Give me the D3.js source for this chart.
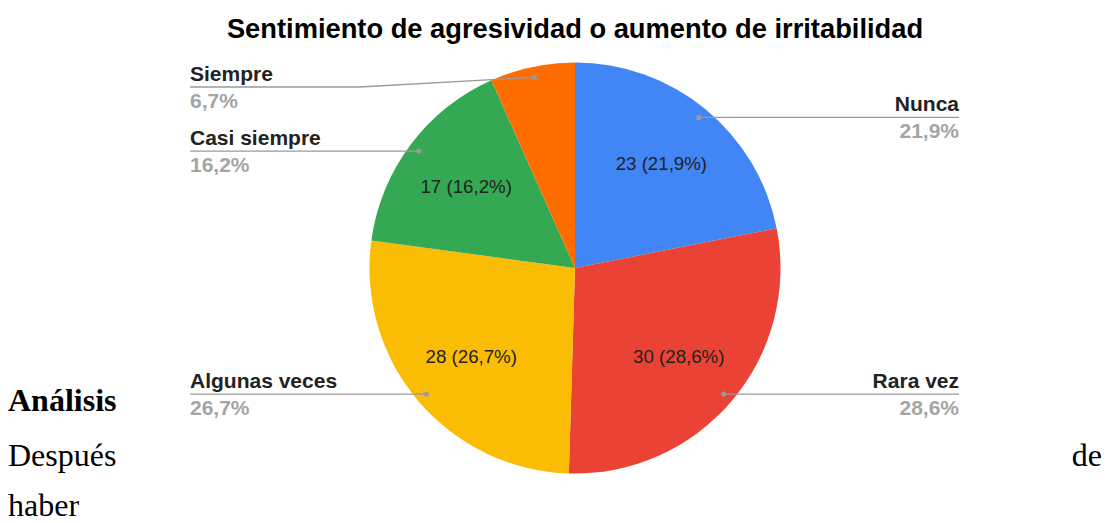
<!DOCTYPE html>
<html>
<head>
<meta charset="utf-8">
<script src="https://cdn.jsdelivr.net/npm/d3@7"></script>
<style>
  body { margin: 0; background: #fff; }
  svg { display: block; font-family: "Liberation Sans", Arial, sans-serif; }
  .doc { font-family: "Liberation Serif", "Times New Roman", serif; font-size: 32px; fill: #000; }
</style>
</head>
<body>
<div id="chart"></div>
<script>
// data
const title = 'Sentimiento de agresividad o aumento de irritabilidad'
const categories = ['Nunca', 'Rara vez', 'Algunas veces', 'Casi siempre', 'Siempre']
const counts = [23, 30, 28, 17, 7]
const colors = ['#4285f4', '#ea4335', '#fbbc04', '#34a853', '#ff6d01']

const width = 1107, height = 523
const cx = 575, cy = 268, R = 205.5

const total = d3.sum(counts)
const fmtPct = v => (v / total * 100).toFixed(1).replace('.', ',') + '%'

const svg = d3.select('#chart').append('svg')
  .attr('width', width)
  .attr('height', height)

// surrounding document text
svg.append('text').attr('class', 'doc').attr('x', 8).attr('y', 411)
  .style('font-weight', 'bold').text('Análisis')
svg.append('text').attr('class', 'doc').attr('x', 8).attr('y', 466).text('Después')
svg.append('text').attr('class', 'doc').attr('x', 1102).attr('y', 466)
  .attr('text-anchor', 'end').text('de')
svg.append('text').attr('class', 'doc').attr('x', 8).attr('y', 516).text('haber')

// title
svg.append('text')
  .attr('x', cx).attr('y', 38)
  .attr('text-anchor', 'middle')
  .style('font-size', '27.3px').style('font-weight', 'bold').attr('fill', '#000')
  .text(title)

const pie = d3.pie().sort(null).value(d => d)
const arcs = pie(counts)

const g = svg.append('g').attr('transform', `translate(${cx},${cy})`)

const arc = d3.arc().innerRadius(0).outerRadius(R)
const labelArc = d3.arc().innerRadius(136).outerRadius(136)
const dotArc = d3.arc().innerRadius(195).outerRadius(195)

g.selectAll('path.slice')
  .data(arcs)
  .join('path')
    .attr('class', 'slice')
    .attr('fill', (d, i) => colors[i])
    .attr('d', arc)

// values inside slices (skip small ones)
g.selectAll('text.inner')
  .data(arcs.filter(d => d.value / total > 0.1))
  .join('text')
    .attr('class', 'inner')
    .attr('transform', d => `translate(${labelArc.centroid(d)})`)
    .attr('dy', '0.36em')
    .attr('text-anchor', 'middle')
    .style('font-size', '18.7px')
    .attr('fill', '#222')
    .text(d => `${d.value} (${fmtPct(d.value)})`)

// outside labels with leader lines
const leftX = -385, rightX = 384
const minLineY = 87 - cy
const lab = g.selectAll('g.lab')
  .data(arcs)
  .join('g')
    .attr('class', 'lab')

lab.each(function (d, i) {
  const el = d3.select(this)
  const [dx, dy] = dotArc.centroid(d)
  const right = dx > 0
  const lineY = right ? dy : Math.max(dy, minLineY)
  const endX = right ? rightX : leftX
  const elbowX = right ? R + 10 : -(R + 10)
  const pts = lineY === dy ? [[dx, dy], [endX, lineY]] : [[dx, dy], [elbowX, lineY], [endX, lineY]]

  el.append('path')
    .attr('d', d3.line()(pts))
    .attr('fill', 'none')
    .attr('stroke', '#9a9a9a')
    .attr('stroke-width', 1.3)
  el.append('circle')
    .attr('cx', dx).attr('cy', dy).attr('r', 2.6)
    .attr('fill', '#9a9a9a')
  el.append('text')
    .attr('x', endX).attr('y', lineY - 6)
    .attr('text-anchor', right ? 'end' : 'start')
    .style('font-size', '21px').style('font-weight', 'bold')
    .attr('fill', '#222')
    .text(categories[i])
  el.append('text')
    .attr('x', endX).attr('y', lineY + 20.5)
    .attr('text-anchor', right ? 'end' : 'start')
    .style('font-size', '21px').style('font-weight', 'bold')
    .attr('fill', '#a5a5a5')
    .text(fmtPct(d.value))
})
</script>
</body>
</html>
